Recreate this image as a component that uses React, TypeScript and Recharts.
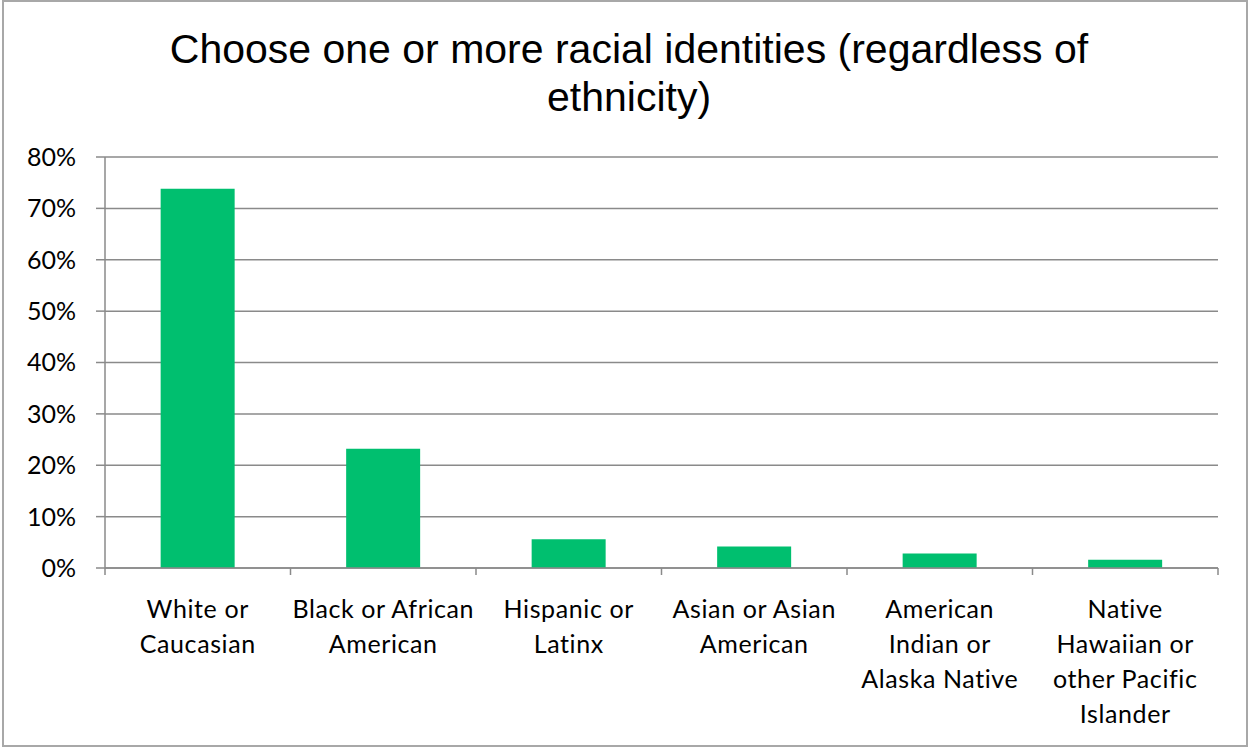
import { BarChart, Bar, XAxis, YAxis, CartesianGrid } from "recharts";

const categories = [
  "White or Caucasian",
  "Black or African American",
  "Hispanic or Latinx",
  "Asian or Asian American",
  "American Indian or Alaska Native",
  "Native Hawaiian or other Pacific Islander",
];

// label lines as wrapped in the original
const tickLines = [
  ["White or", "Caucasian"],
  ["Black or African", "American"],
  ["Hispanic or", "Latinx"],
  ["Asian or Asian", "American"],
  ["American", "Indian or", "Alaska Native"],
  ["Native", "Hawaiian or", "other Pacific", "Islander"],
];

const shares = [0.738, 0.232, 0.056, 0.042, 0.028, 0.016];

const yTicks = [0, 0.1, 0.2, 0.3, 0.4, 0.5, 0.6, 0.7, 0.8];

const data = categories.map((name, i) => ({ name, value: shares[i] }));

const axisColor = "#8a8a8a";
const labelFont = "Lato, 'Open Sans', sans-serif";

// Excel puts the tick marks between categories, so draw them at the band edges
function CategoryTick(props: any) {
  const { x, y, payload } = props;
  const half = payload.offset || 0;
  const lines = tickLines[payload.index] || [payload.value];
  const isLast = payload.index === categories.length - 1;
  return (
    <g>
      <line x1={x - half} x2={x - half} y1={y} y2={y + 7} stroke={axisColor} strokeWidth={1.5} />
      {isLast && <line x1={x + half} x2={x + half} y1={y} y2={y + 7} stroke={axisColor} strokeWidth={1.5} />}
      <text x={x} y={y} textAnchor="middle" fontFamily={labelFont} fontSize={25} letterSpacing={0.6} fill="#000">
        {lines.map((line, i) => (
          <tspan key={i} x={x} dy={i === 0 ? 50 : 35}>
            {line}
          </tspan>
        ))}
      </text>
    </g>
  );
}

export default function App() {
  return (
    <div style={{ position: "absolute", left: 0, top: 0, width: 1250, height: 748, background: "#fff" }}>
      <div
        style={{
          position: "absolute",
          left: 4,
          top: 25,
          width: 1250,
          textAlign: "center",
          fontFamily: "'Liberation Sans', Arial, sans-serif",
          fontSize: 41,
          lineHeight: "48px",
          color: "#000",
        }}
      >
        Choose one or more racial identities (regardless of
        <br />
        ethnicity)
      </div>
      <div style={{ position: "absolute", left: 0, top: 0 }}>
        <BarChart
          width={1250}
          height={748}
          data={data}
          margin={{ top: 157, right: 32, left: 0, bottom: 10 }}
          barCategoryGap="30%"
        >
          <CartesianGrid vertical={false} stroke={axisColor} strokeWidth={1.5} />
          <XAxis
            dataKey="name"
            height={170}
            stroke={axisColor}
            strokeWidth={1.5}
            tickLine={false}
            tickSize={0}
            tickMargin={0}
            interval={0}
            tick={<CategoryTick />}
          />
          <YAxis
            domain={[0, 0.8]}
            ticks={yTicks}
            width={105}
            stroke={axisColor}
            strokeWidth={1.5}
            tickSize={9}
            tickMargin={20}
            tickFormatter={(v: number) => `${Math.round(v * 100)}%`}
            tick={{ fill: "#000", fontSize: 25, fontFamily: labelFont }}
          />
          <Bar dataKey="value" fill="#00BF6F" isAnimationActive={false} />
        </BarChart>
      </div>
      <div
        style={{
          position: "absolute",
          left: 2,
          top: 0,
          width: 1246,
          height: 747,
          boxSizing: "border-box",
          border: "2px solid #a8a8a8",
          pointerEvents: "none",
        }}
      />
    </div>
  );
}
